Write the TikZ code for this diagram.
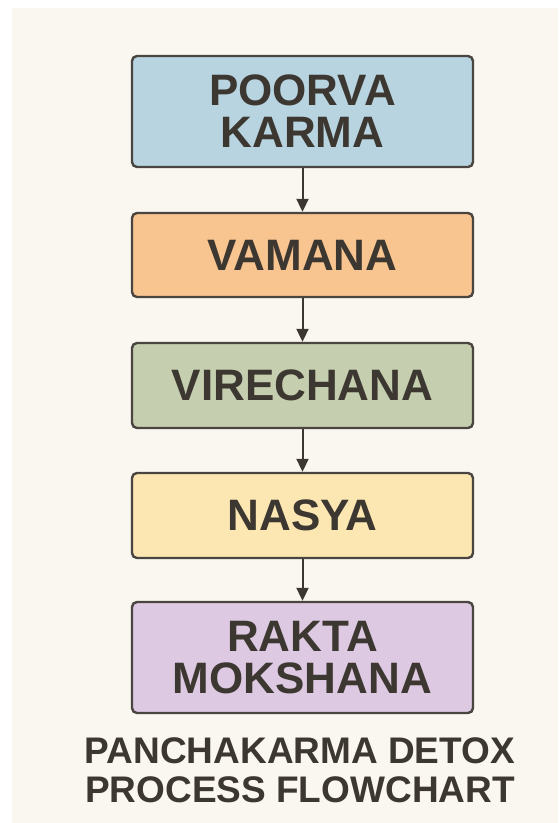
\documentclass[tikz,border=0pt]{standalone}
\usepackage{fontspec}
\setmainfont{Liberation Sans}
\usepackage{xcolor}
\usepackage{tikz}
\usetikzlibrary{arrows.meta}
\definecolor{pkbg}{HTML}{FAF6F0}
\definecolor{pkink}{HTML}{3D3731}
\definecolor{pkedge}{HTML}{4A4540}
\definecolor{pkblue}{HTML}{B7D4E0}
\definecolor{pkorange}{HTML}{F8C590}
\definecolor{pkgreen}{HTML}{C5CFAF}
\definecolor{pkyellow}{HTML}{FCE7B2}
\definecolor{pkviolet}{HTML}{DDC9E1}

\begin{document}
\begin{tikzpicture}[x=1pt,y=-1pt,>={Triangle[length=13pt,width=12pt]},
  stage/.style={draw=pkedge,line width=2.4pt,rounded corners=5pt,minimum width=341pt,
    align=center,text=pkink,font=\fontsize{44}{42}\selectfont\bfseries,inner sep=0pt},
  flow/.style={->,draw=pkink,line width=2pt}]
  \useasboundingbox (0,0) rectangle (558,823);
  \fill[pkbg] (12,8) rectangle (558,823);
  \node[stage,fill=pkblue,minimum height=111pt] (poorva) at (302.5,111.5) {POORVA\\KARMA};
  \node[stage,fill=pkorange,minimum height=84pt] (vamana) at (302.5,255) {VAMANA};
  \node[stage,fill=pkgreen,minimum height=85pt] (virechana) at (302.5,385.5) {VIRECHANA};
  \node[stage,fill=pkyellow,minimum height=85pt] (nasya) at (302.5,515.5) {NASYA};
  \node[stage,fill=pkviolet,minimum height=111pt] (rakta) at (302.5,657.5) {RAKTA\\MOKSHANA};
  \draw[flow] (poorva) -- (vamana);
  \draw[flow] (vamana) -- (virechana);
  \draw[flow] (virechana) -- (nasya);
  \draw[flow] (nasya) -- (rakta);
  \node[text=pkink,font=\fontsize{37}{39}\selectfont\bfseries,align=center,inner sep=0pt]
    (title) at (300,770) {PANCHAKARMA DETOX\\PROCESS FLOWCHART};
\end{tikzpicture}
\end{document}
